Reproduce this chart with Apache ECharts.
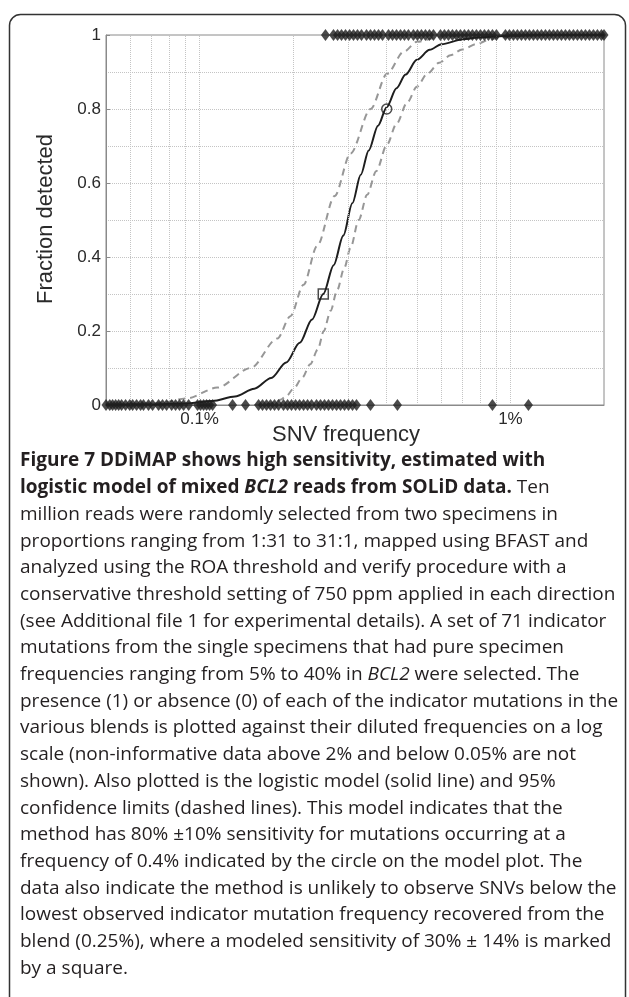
<!DOCTYPE html>
<html>
<head>
<meta charset="utf-8">
<script src="https://cdn.jsdelivr.net/npm/echarts@6/dist/echarts.min.js"></script>
<style>
  html, body { margin: 0; padding: 0; background: #fff; }
  #chart { width: 629px; height: 997px; }
</style>
</head>
<body>
<div id="chart"></div>
<script>
// SNV frequencies (%) of indicator mutations that were NOT detected (plotted at 0)
const missedFreqs = [
  0.050, 0.0514, 0.0525, 0.0537, 0.0549, 0.0561, 0.0578, 0.0596, 0.0609, 0.0627,
  0.0646, 0.0660, 0.0685, 0.0706, 0.0738, 0.0760, 0.0783, 0.0813, 0.0837, 0.0862,
  0.0888, 0.0922, 0.0985, 0.1007, 0.1030, 0.1053, 0.1077, 0.1101, 0.1277, 0.1405,
  0.1548, 0.1594, 0.1642, 0.1691, 0.1742, 0.1795, 0.1862, 0.1919, 0.1976, 0.2036,
  0.2097, 0.2160, 0.2225, 0.2292, 0.2378, 0.2449, 0.2523, 0.2599, 0.2677, 0.2758,
  0.2840, 0.2926, 0.3014, 0.3104, 0.3198, 0.3547, 0.4331, 0.8753, 1.1428
];

// SNV frequencies (%) of indicator mutations that were detected (plotted at 1)
const detectedFreqs = [
  0.2541, 0.2697, 0.2779, 0.2862, 0.2948, 0.3037, 0.3128, 0.3221, 0.3318, 0.3443,
  0.3547, 0.3653, 0.3763, 0.3877, 0.4053, 0.4174, 0.4300, 0.4429, 0.4561, 0.4699,
  0.4876, 0.5023, 0.5174, 0.5329, 0.5489, 0.5655, 0.5956, 0.6135, 0.6319, 0.6509,
  0.6705, 0.6906, 0.7113, 0.7328, 0.7548, 0.7775, 0.8008, 0.8249, 0.8497, 0.8753,
  0.9016, 0.9636, 0.9926, 1.0224, 1.0532, 1.0849, 1.1175, 1.1511, 1.1858, 1.2214,
  1.2582, 1.2960, 1.3350, 1.3751, 1.4165, 1.4591, 1.5030, 1.5482, 1.5948, 1.6427,
  1.6921, 1.7431, 1.7955, 1.8495, 1.9051, 1.9624, 2.0
];

// Logistic model (solid line)
const fitFreqs = [0.05, 0.07, 0.09, 0.11, 0.13, 0.15, 0.17, 0.19, 0.21, 0.23, 0.25, 0.27, 0.29, 0.31, 0.33, 0.35, 0.375, 0.40, 0.43, 0.46, 0.50, 0.55, 0.6, 0.7, 0.8, 1.0, 1.3, 2.0];
const fitValues = [0.0005, 0.0015, 0.004, 0.011, 0.023, 0.044, 0.073, 0.115, 0.168, 0.231, 0.300, 0.378, 0.458, 0.545, 0.622, 0.688, 0.755, 0.805, 0.856, 0.893, 0.933, 0.960, 0.975, 0.988, 0.994, 0.998, 1.0, 1.0];

// 95% confidence limits (dashed lines)
const upperFreqs = [0.06, 0.075, 0.091, 0.114, 0.146, 0.178, 0.196, 0.216, 0.239, 0.272, 0.306, 0.355, 0.401, 0.454, 0.501, 0.6, 0.75, 2.0];
const upperValues = [0.002, 0.006, 0.018, 0.047, 0.100, 0.180, 0.24, 0.325, 0.43, 0.565, 0.68, 0.80, 0.895, 0.955, 0.982, 0.996, 1.0, 1.0];
const lowerFreqs = [0.15, 0.165, 0.175, 0.182, 0.19, 0.201, 0.214, 0.227, 0.24, 0.251, 0.264, 0.277, 0.292, 0.306, 0.325, 0.346, 0.37, 0.401, 0.43, 0.466, 0.50, 0.54, 0.59, 0.641, 0.70, 0.78, 0.85, 0.917, 1.05, 1.3, 2.0];
const lowerValues = [0.0, 0.002, 0.007, 0.014, 0.024, 0.045, 0.074, 0.11, 0.15, 0.20, 0.255, 0.31, 0.37, 0.425, 0.50, 0.568, 0.632, 0.704, 0.76, 0.818, 0.86, 0.895, 0.925, 0.945, 0.961, 0.976, 0.986, 0.993, 0.998, 1.0, 1.0];

// Marked model points: lowest observed frequency (square) and 80% sensitivity (circle)
const squarePoint = [0.25, 0.30];
const circlePoint = [0.4, 0.80];

// Vertical grid positions on the log axis (%)
const xGridValues = [0.06, 0.07, 0.08, 0.09, 0.1, 0.2, 0.3, 0.4, 0.5, 0.6, 0.7, 0.8, 0.9, 1];

const captionLines = [
  '{b|Figure 7 DDiMAP shows high sensitivity, estimated with}',
  '{b|logistic model of mixed }{bi|BCL2}{b| reads from SOLiD data.} Ten',
  'million reads were randomly selected from two specimens in',
  'proportions ranging from 1:31 to 31:1, mapped using BFAST and',
  'analyzed using the ROA threshold and verify procedure with a',
  'conservative threshold setting of 750 ppm applied in each direction',
  '(see Additional file 1 for experimental details). A set of 71 indicator',
  'mutations from the single specimens that had pure specimen',
  'frequencies ranging from 5% to 40% in {i|BCL2} were selected. The',
  'presence (1) or absence (0) of each of the indicator mutations in the',
  'various blends is plotted against their diluted frequencies on a log',
  'scale (non-informative data above 2% and below 0.05% are not',
  'shown). Also plotted is the logistic model (solid line) and 95%',
  'confidence limits (dashed lines). This model indicates that the',
  'method has 80% \u00b110% sensitivity for mutations occurring at a',
  'frequency of 0.4% indicated by the circle on the model plot. The',
  'data also indicate the method is unlikely to observe SNVs below the',
  'lowest observed indicator mutation frequency recovered from the',
  'blend (0.25%), where a modeled sensitivity of 30% \u00b1 14% is marked',
  'by a square.'
];

const plotFont = 'Liberation Sans, Arial, sans-serif';
const captionFont = 'Open Sans, sans-serif';
const captionSize = 19;
const textColor = '#2a2a2a';
const captionColor = '#231f20';

const zip = (xs, ys) => xs.map((x, i) => [x, ys[i]]);

const captionGraphics = captionLines.map((line, i) => ({
  type: 'text',
  x: 20,
  y: 461 + i * 26.7,
  style: {
    text: line,
    fontFamily: captionFont,
    fontSize: captionSize,
    fill: captionColor,
    align: 'left',
    verticalAlign: 'middle',
    rich: {
      b: { fontFamily: captionFont, fontSize: captionSize, fontWeight: 'bold', fill: captionColor },
      bi: { fontFamily: captionFont, fontSize: captionSize, fontWeight: 'bold', fontStyle: 'italic', fill: captionColor },
      i: { fontFamily: captionFont, fontSize: captionSize, fontStyle: 'italic', fill: captionColor }
    }
  }
}));

const dashedStyle = { color: '#979797', width: 2, type: [7, 5] };
const diamondSize = [9, 12];

const chart = echarts.init(document.getElementById('chart'), null, { renderer: 'canvas' });

chart.setOption({
  backgroundColor: '#fff',
  animation: false,
  grid: {
    left: 106, right: 25, top: 35, bottom: 592,
    show: true, borderColor: '#8a8a8a', borderWidth: 1, backgroundColor: 'transparent'
  },
  xAxis: {
    type: 'log',
    logBase: 10,
    min: 0.05,
    max: 2,
    axisLine: { show: true, lineStyle: { color: '#8a8a8a', width: 1 } },
    axisTick: { show: false },
    splitLine: { show: false },
    axisLabel: {
      showMinLabel: false,
      showMaxLabel: false,
      fontFamily: plotFont,
      fontSize: 17,
      color: textColor,
      margin: 6,
      formatter: v => parseFloat(Number(v).toPrecision(2)) + '%'
    }
  },
  yAxis: {
    type: 'value',
    min: 0,
    max: 1,
    interval: 0.2,
    axisLine: { show: true, lineStyle: { color: '#8a8a8a', width: 1 } },
    axisTick: { show: true, inside: true, length: 4, lineStyle: { color: '#8a8a8a' } },
    splitLine: { show: true, lineStyle: { color: '#c4c4c4', type: 'dotted', width: 1 } },
    minorTick: { show: false, splitNumber: 2 },
    minorSplitLine: { show: true, lineStyle: { color: '#c4c4c4', type: 'dotted', width: 1 } },
    axisLabel: { fontFamily: plotFont, fontSize: 17, color: textColor, margin: 5 }
  },
  graphic: [
    {
      type: 'rect',
      shape: { x: 9.5, y: 14.5, width: 616, height: 1000, r: 11 },
      style: { fill: 'none', stroke: '#333', lineWidth: 1.5 },
      z: -1
    },
    {
      type: 'text',
      x: 46, y: 219,
      rotation: Math.PI / 2,
      style: {
        text: 'Fraction detected',
        font: '22px ' + plotFont,
        fill: textColor,
        align: 'center',
        verticalAlign: 'middle'
      }
    },
    {
      type: 'text',
      x: 346, y: 435,
      style: {
        text: 'SNV frequency',
        font: '22px ' + plotFont,
        fill: textColor,
        align: 'center',
        verticalAlign: 'middle'
      }
    }
  ].concat(captionGraphics),
  series: [
    {
      name: 'grid',
      type: 'line',
      data: [],
      z: 1,
      markLine: {
        silent: true,
        symbol: 'none',
        label: { show: false },
        lineStyle: { color: '#c4c4c4', type: 'dotted', width: 1 },
        data: xGridValues.map(v => ({ xAxis: v }))
      }
    },
    {
      name: 'lower 95%',
      type: 'line',
      data: zip(lowerFreqs, lowerValues),
      showSymbol: false,
      smooth: 0.3,
      smoothMonotone: 'x',
      lineStyle: dashedStyle,
      z: 2
    },
    {
      name: 'upper 95%',
      type: 'line',
      data: zip(upperFreqs, upperValues),
      showSymbol: false,
      smooth: 0.3,
      smoothMonotone: 'x',
      lineStyle: dashedStyle,
      z: 2
    },
    {
      name: 'logistic model',
      type: 'line',
      data: zip(fitFreqs, fitValues),
      showSymbol: false,
      smooth: 0.3,
      smoothMonotone: 'x',
      lineStyle: { color: '#1e1e1e', width: 2 },
      z: 3
    },
    {
      name: 'not detected',
      type: 'scatter',
      data: missedFreqs.map(x => [x, 0]),
      symbol: 'diamond',
      symbolSize: diamondSize,
      clip: false,
      itemStyle: { color: '#1e1e1e' },
      z: 5
    },
    {
      name: 'detected',
      type: 'scatter',
      data: detectedFreqs.map(x => [x, 1]),
      symbol: 'diamond',
      symbolSize: diamondSize,
      clip: false,
      itemStyle: { color: '#1e1e1e' },
      z: 5
    },
    {
      name: 'lowest observed',
      type: 'scatter',
      data: [squarePoint],
      symbol: 'rect',
      symbolSize: 10,
      itemStyle: { color: 'rgba(0,0,0,0)', borderColor: '#1e1e1e', borderWidth: 1.5 },
      z: 6
    },
    {
      name: '80% sensitivity',
      type: 'scatter',
      data: [circlePoint],
      symbol: 'circle',
      symbolSize: 10,
      itemStyle: { color: 'rgba(0,0,0,0)', borderColor: '#1e1e1e', borderWidth: 1.5 },
      z: 6
    }
  ]
});
</script>
</body>
</html>
